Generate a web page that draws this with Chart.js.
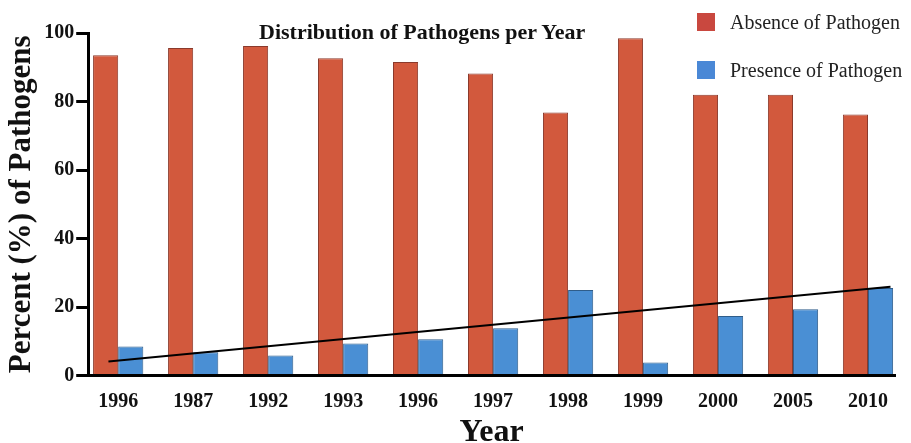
<!DOCTYPE html>
<html>
<head>
<meta charset="utf-8">
<title>Distribution of Pathogens per Year</title>
<script src="https://cdn.jsdelivr.net/npm/chart.js@4"></script>
<style>
  body { margin: 0; background: #fff; }
  #wrap { position: relative; width: 911px; height: 443px; }
  #title {
    position: absolute; left: 259px; top: 19px;
    font: bold 22px "Liberation Serif", serif; color: #111; white-space: nowrap;
  }
  .leg { position: absolute; left: 697px; font: 20px "Liberation Serif", serif; color: #222; white-space: nowrap; }
  .leg span { display: inline-block; width: 18px; height: 18px; vertical-align: -2px; margin-right: 15px; }
</style>
</head>
<body>
<div id="wrap">
  <canvas id="chart" width="911" height="443"></canvas>
  <div id="title">Distribution of Pathogens per Year</div>
  <div class="leg" style="top:11px"><span style="background:#c9483f"></span>Absence of Pathogen</div>
  <div class="leg" style="top:59px"><span style="background:#4a88d6"></span>Presence of Pathogen</div>
</div>
<script>
// ---------- data ----------
const years = ['1996', '1987', '1992', '1993', '1996', '1997', '1998', '1999', '2000', '2005', '2010'];
const absence = [93.5, 95.6, 96.2, 92.6, 91.5, 88.2, 76.8, 98.5, 82, 82, 76.2];
const presence = [8.5, 6.8, 5.9, 9.4, 10.6, 13.8, 25, 3.8, 17.4, 19.4, 25.6];
const yTicks = [0, 20, 40, 60, 80, 100];
// trend line end points (category index, percent)
const trendX = [-0.13, 10.3];
const trendY = [4.1, 25.9];

const serif = '"Liberation Serif", serif';

new Chart(document.getElementById('chart'), {
  type: 'bar',
  data: {
    datasets: [
      {
        label: 'Absence of Pathogen',
        data: absence.map((v, i) => ({ x: i, y: v })),
        backgroundColor: '#d2593d',
        borderColor: '#8a3a2c',
        borderWidth: 1,
        categoryPercentage: 0.67,
        barPercentage: 1.0,
        order: 2
      },
      {
        label: 'Presence of Pathogen',
        data: presence.map((v, i) => ({ x: i, y: v })),
        backgroundColor: '#4a8fd4',
        borderColor: '#2f5d8a',
        borderWidth: 1,
        categoryPercentage: 0.67,
        barPercentage: 1.0,
        order: 2
      },
      {
        type: 'line',
        label: 'trend',
        data: trendX.map((x, i) => ({ x: x, y: trendY[i] })),
        borderColor: '#000',
        borderWidth: 2,
        pointRadius: 0,
        fill: false,
        order: 1
      }
    ]
  },
  options: {
    responsive: false,
    animation: false,
    layout: { padding: { top: 33, right: 16, left: 3, bottom: 0 } },
    plugins: {
      legend: { display: false },
      tooltip: { enabled: false }
    },
    scales: {
      x: {
        type: 'linear',
        offset: false,
        min: -0.4,
        max: 10.36,
        afterBuildTicks: (scale) => { scale.ticks = years.map((_, i) => ({ value: i })); },
        ticks: {
          callback: (v) => years[v],
          color: '#111',
          font: { family: serif, size: 20, weight: 'bold' },
          padding: 14,
          maxRotation: 0,
          autoSkip: false
        },
        grid: { display: false, drawTicks: false },
        border: { color: '#000', width: 3 },
        title: {
          display: true,
          text: 'Year',
          color: '#111',
          font: { family: serif, size: 32, weight: 'bold' },
          padding: { top: -14, bottom: -9 }
        }
      },
      y: {
        min: 0,
        max: 100,
        afterBuildTicks: (scale) => { scale.ticks = yTicks.map(v => ({ value: v })); },
        ticks: {
          color: '#111',
          font: { family: serif, size: 20, weight: 'bold' },
          padding: 2
        },
        grid: {
          drawOnChartArea: false,
          drawTicks: true,
          tickLength: 12,
          color: '#000',
          lineWidth: 3
        },
        border: { color: '#000', width: 3 },
        title: {
          display: true,
          text: 'Percent (%) of Pathogens',
          color: '#111',
          font: { family: serif, size: 31, weight: 'bold' },
          padding: { top: 0, bottom: 2 }
        }
      }
    }
  }
});
</script>
</body>
</html>
